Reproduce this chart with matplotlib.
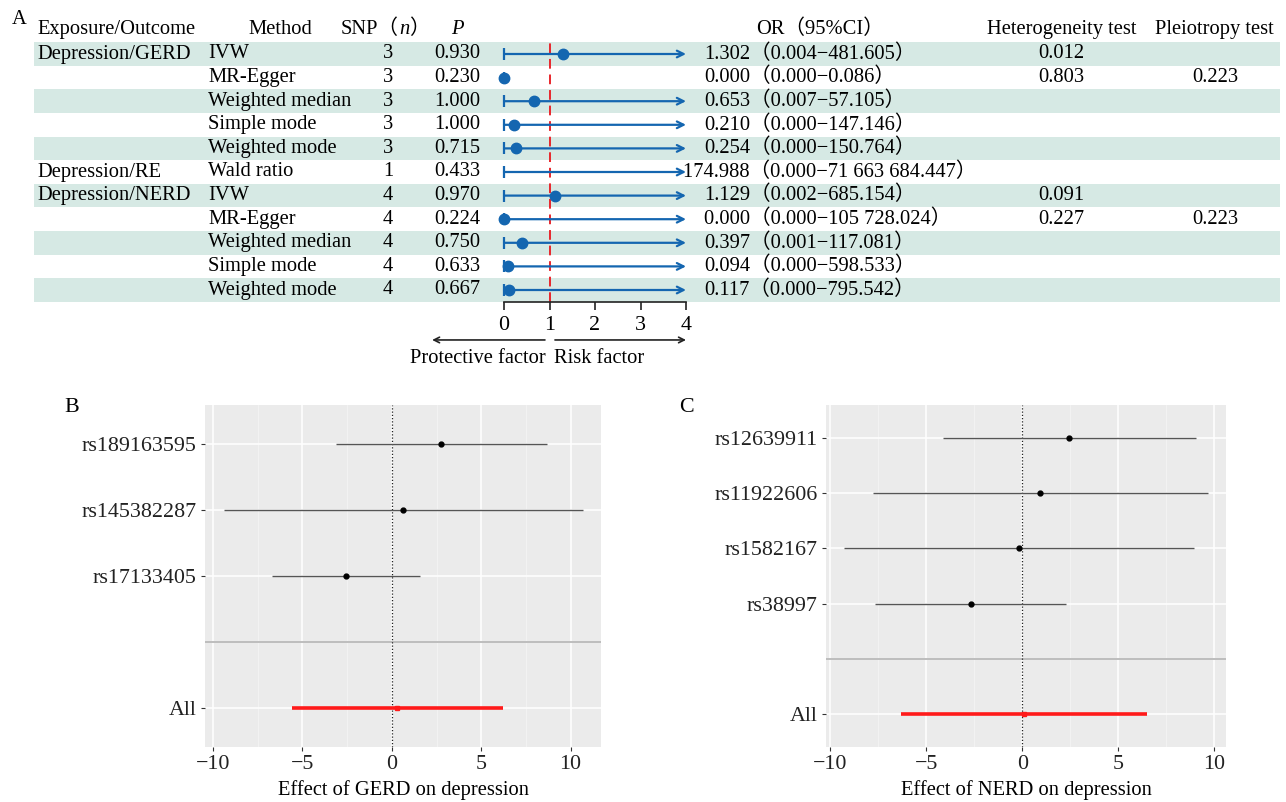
import numpy as np
import matplotlib
matplotlib.use('Agg')
import matplotlib.pyplot as plt

plt.rcParams['font.family'] = ['Liberation Serif', 'Noto Sans CJK SC']
plt.rcParams['axes.unicode_minus'] = True

# ---- panel A data ----
exposure = ['Depression/GERD', '', '', '', '', 'Depression/RE',
            'Depression/NERD', '', '', '', '']
methods = ['IVW', 'MR-Egger', 'Weighted median', 'Simple mode', 'Weighted mode',
           'Wald ratio', 'IVW', 'MR-Egger', 'Weighted median', 'Simple mode',
           'Weighted mode']
snp_n = [3, 3, 3, 3, 3, 1, 4, 4, 4, 4, 4]
p_vals = ['0.930', '0.230', '1.000', '1.000', '0.715', '0.433',
          '0.970', '0.224', '0.750', '0.633', '0.667']
or_est = [1.302, 0.000, 0.653, 0.210, 0.254, 174.988, 1.129, 0.000, 0.397, 0.094, 0.117]
or_lo = [0.004, 0.000, 0.007, 0.000, 0.000, 0.000, 0.002, 0.000, 0.001, 0.000, 0.000]
or_hi = [481.605, 0.086, 57.105, 147.146, 150.764, 71663684.447,
         685.154, 105728.024, 117.081, 598.533, 795.542]
het = ['0.012', '0.803', '', '', '', '', '0.091', '0.227', '', '', '']
pleio = ['', '0.223', '', '', '', '', '', '0.223', '', '', '']
or_ticks = [0, 1, 2, 3, 4]

# ---- panel B data ----
snps_b = ['rs189163595', 'rs145382287', 'rs17133405']
beta_b = [2.73, 0.6, -2.58]
lo_b = [-3.13, -9.4, -6.7]
hi_b = [8.67, 10.67, 1.6]
all_b = (0.3, -5.6, 6.2)

# ---- panel C data ----
snps_c = ['rs12639911', 'rs11922606', 'rs1582167', 'rs38997']
beta_c = [2.46, 0.93, -0.17, -2.69]
lo_c = [-4.13, -7.75, -9.26, -7.68]
hi_c = [9.05, 9.66, 8.93, 2.29]
all_c = (0.08, -6.29, 6.5)

band = '#d6e9e4'
blue = '#1466b0'
red_dash = '#e8262b'
FS = 14.8

W, H = 1286, 802
fig = plt.figure(figsize=(W / 100, H / 100), dpi=100)
renderer = fig.canvas.get_renderer()


def fmt(v):
    return '{:,.3f}'.format(v).replace(',', ' ')


# ---------------- panel A ----------------
bg = fig.add_axes([0, (H - 301.8) / H, 1, 259.6 / H])
bg.set_xlim(0, W)
bg.set_ylim(10.5, -0.5)
bg.axis('off')
nrow = len(methods)
for i in range(0, nrow, 2):
    bg.axhspan(i - 0.5, i + 0.5, xmin=34 / W, xmax=1280 / W, color=band, lw=0, zorder=0)

hy = -1.05
bg.text(37, hy, 'Exposure/Outcome', fontsize=FS, va='center', ha='left')
bg.text(280, hy, 'Method', fontsize=FS, va='center', ha='center')
# SNP(n) header, pieces placed one after another (italic n)
t1 = bg.text(399, hy, 'SNP（', fontsize=FS, va='center', ha='right')
t2 = bg.text(t1.get_window_extent(renderer).x1, hy, 'n', fontsize=FS, va='center',
             ha='left', style='italic')
bg.text(t2.get_window_extent(renderer).x1, hy, '）', fontsize=FS, va='center', ha='left')
bg.text(457, hy, 'P', fontsize=FS, va='center', ha='center', style='italic')
bg.text(820, hy, 'OR（95%CI）', fontsize=FS, va='center', ha='center')
bg.text(1062, hy, 'Heterogeneity test', fontsize=FS, va='center', ha='center')
bg.text(1214, hy, 'Pleiotropy test', fontsize=FS, va='center', ha='center')
fig.text(12 / W, 1 - 19 / H, 'A', fontsize=FS, va='center', ha='left')

for i in range(nrow):
    bg.text(37, i, exposure[i], fontsize=FS, va='center', ha='left')
    bg.text(208, i, methods[i], fontsize=FS, va='center', ha='left')
    bg.text(388, i, str(snp_n[i]), fontsize=FS, va='center', ha='center')
    bg.text(457, i, p_vals[i], fontsize=FS, va='center', ha='center')
    # estimate right-aligned, CI text follows it in the same string
    probe = bg.text(750, i, fmt(or_est[i]), fontsize=FS, va='center', ha='right')
    x0 = probe.get_window_extent(renderer).x0
    probe.remove()
    bg.text(x0, i, fmt(or_est[i]) + '（' + fmt(or_lo[i]) + '−' + fmt(or_hi[i]) + '）',
            fontsize=FS, va='center', ha='left')
    bg.text(1038, i, het[i], fontsize=FS, va='center', ha='left')
    bg.text(1215, i, pleio[i], fontsize=FS, va='center', ha='center')

fa = fig.add_axes([504 / W, (H - 301.8) / H, 182 / W, 259.6 / H])
fa.set_xlim(0, 4)
fa.set_ylim(10.5, -0.5)
fa.patch.set_alpha(0)
for s in ['left', 'top', 'right']:
    fa.spines[s].set_visible(False)
fa.spines['bottom'].set_color('#222222')
fa.spines['bottom'].set_linewidth(1.2)
fa.set_yticks([])
fa.set_xticks(or_ticks)
fa.tick_params(axis='x', direction='out', length=6, width=1.2, color='#222222',
               labelsize=FS + 1, pad=4)
fa.axvline(1, color=red_dash, ls=(0, (5, 3)), lw=1.4, zorder=1)

for i in range(nrow):
    lo, hi, est = or_lo[i], or_hi[i], or_est[i]
    right = min(hi, or_ticks[-1])
    if hi > or_ticks[-1]:
        fa.annotate('', xy=(right, i), xytext=(lo, i),
                    arrowprops=dict(arrowstyle='->', color=blue, lw=1.6,
                                    shrinkA=0, shrinkB=0, mutation_scale=12),
                    zorder=2)
    else:
        fa.plot([lo, right], [i, i], color=blue, lw=1.6, zorder=2)
    fa.plot([lo], [i], marker='|', ms=9, mew=1.6, color=blue, zorder=2, clip_on=False)
    if est <= or_ticks[-1]:
        fa.plot([est], [i], 'o', ms=7.5, color=blue, zorder=3, clip_on=False)

fa.annotate('', xy=(-1.58, -0.147), xytext=(0.9, -0.147),
            xycoords=('data', 'axes fraction'), textcoords=('data', 'axes fraction'),
            arrowprops=dict(arrowstyle='->', color='#222222', lw=1.2,
                            shrinkA=0, shrinkB=0), annotation_clip=False)
fa.annotate('', xy=(4.0, -0.147), xytext=(1.12, -0.147),
            xycoords=('data', 'axes fraction'), textcoords=('data', 'axes fraction'),
            arrowprops=dict(arrowstyle='->', color='#222222', lw=1.2,
                            shrinkA=0, shrinkB=0), annotation_clip=False)
fa.text(0.92, -0.22, 'Protective factor', fontsize=FS, ha='right', va='center',
        transform=fa.get_xaxis_transform())
fa.text(1.1, -0.22, 'Risk factor', fontsize=FS, ha='left', va='center',
        transform=fa.get_xaxis_transform())


# ---------------- panels B and C ----------------
def mr_panel(ax, snps, beta, lo, hi, allv, xlim, xlabel):
    n = len(snps)
    ypos = np.arange(n + 2, 2, -1)
    ax.set_facecolor('#ebebeb')
    for s in ax.spines.values():
        s.set_visible(False)
    ax.set_xlim(*xlim)
    ax.set_ylim(0.4, n + 2.6)
    ax.set_xticks([-10, -5, 0, 5, 10])
    ax.set_xticks([-7.5, -2.5, 2.5, 7.5], minor=True)
    ax.set_yticks(list(ypos) + [1])
    ax.set_yticklabels(list(snps) + ['All'])
    ax.grid(which='major', color='white', lw=1.1)
    ax.grid(which='minor', axis='x', color='#f4f4f4', lw=0.6)
    ax.set_axisbelow(True)
    ax.tick_params(axis='both', which='major', length=3, width=0.8, color='#333333',
                   labelsize=FS + 1, labelcolor='#222222', pad=3)
    ax.tick_params(which='minor', length=0)
    ax.axhline(2, color='#bdbdbd', lw=1.4)
    ax.axvline(0, color='#222222', lw=0.9, ls=(0, (1, 1.6)))
    ax.hlines(ypos, lo, hi, color='#555555', lw=1.0)
    ax.plot(beta, ypos, 'o', color='black', ms=3.5)
    ax.hlines([1], [allv[1]], [allv[2]], color='#ff1a1a', lw=2.6)
    ax.plot([allv[0]], [1], 's', color='#ff1a1a', ms=3)
    ax.set_xlabel(xlabel, fontsize=FS, labelpad=4)


axb = fig.add_axes([205 / W, (H - 747) / H, 396 / W, 342 / H])
mr_panel(axb, snps_b, beta_b, lo_b, hi_b, all_b, (-10.45, 11.7),
         'Effect of GERD on depression')
fig.text(72 / W, 1 - 408 / H, 'B', fontsize=FS + 1, va='center', ha='center')

axc = fig.add_axes([826 / W, (H - 747) / H, 400 / W, 342 / H])
mr_panel(axc, snps_c, beta_c, lo_c, hi_c, all_c, (-10.22, 10.62),
         'Effect of NERD on depression')
fig.text(686 / W, 1 - 408 / H, 'C', fontsize=FS + 1, va='center', ha='center')

fig.savefig('out.png', dpi=100)
